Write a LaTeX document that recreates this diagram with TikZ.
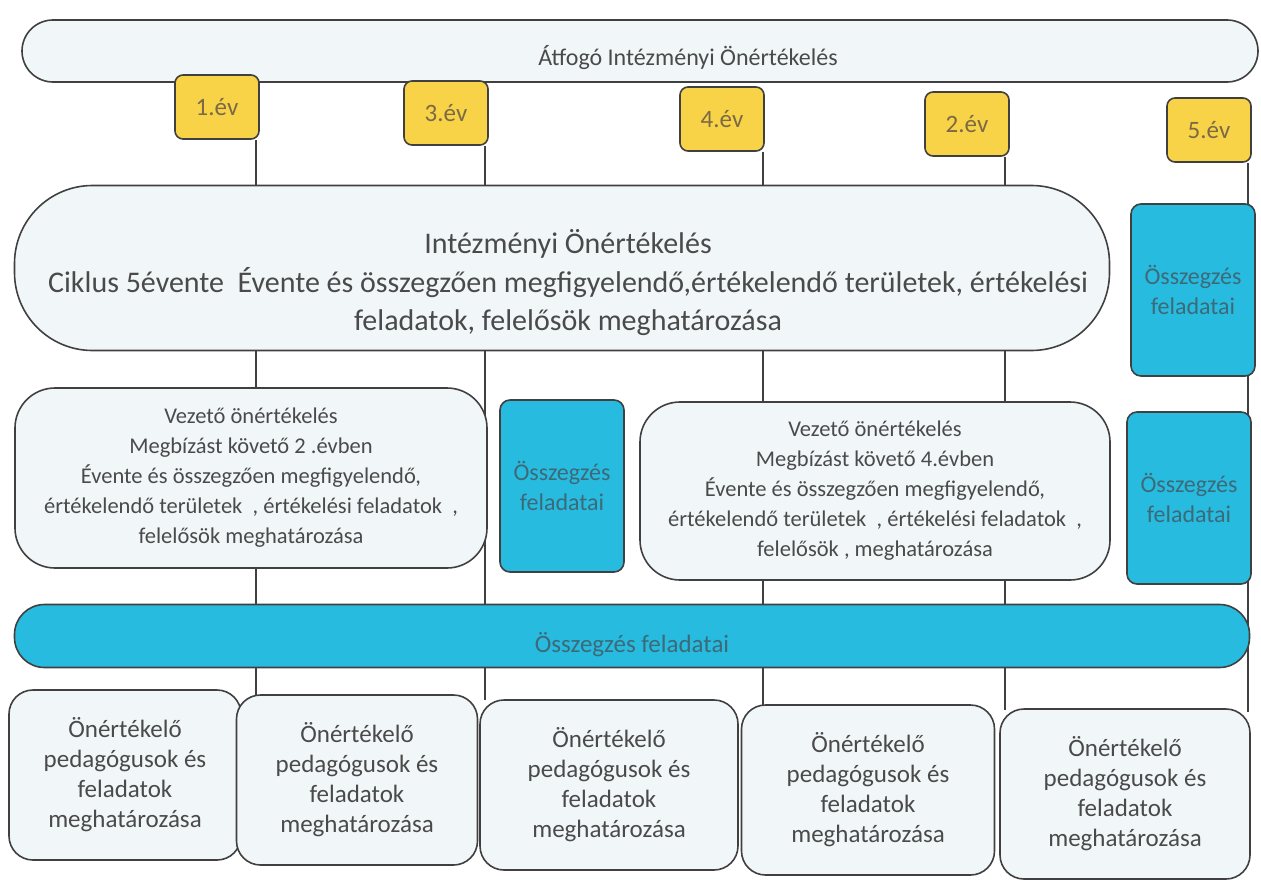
\documentclass[tikz,border=0pt]{standalone}
\usepackage{fontspec}
\setmainfont{Carlito}
\definecolor{linec}{HTML}{404040}
\definecolor{lightf}{HTML}{F1F7F9}
\definecolor{yel}{HTML}{F8D247}
\definecolor{teal1}{HTML}{27BBE0}
\definecolor{txt}{HTML}{4A4A4A}
\definecolor{ytxt}{HTML}{7A6A45}
\definecolor{ttxt}{HTML}{3D6A78}
\tikzset{
  bx/.style={draw=linec, line width=1.6pt, align=center, inner sep=0pt, text=txt},
  lightbox/.style={bx, fill=lightf},
  yr/.style={bx, fill=yel, rounded corners=8pt, minimum width=84pt, minimum height=64pt, text=ytxt, font=\fontsize{25}{28}\selectfont},
  tl/.style={bx, fill=teal1, rounded corners=10pt, minimum width=124pt, minimum height=172pt, text=ttxt, font=\fontsize{24}{30}\selectfont},
  vez/.style={lightbox, rounded corners=40pt, font=\fontsize{22.5}{30}\selectfont},
  bot/.style={lightbox, rounded corners=24pt, minimum height=170pt, font=\fontsize{25}{30}\selectfont},
  conn/.style={draw=linec, line width=1.6pt},
}
\begin{document}
\begin{tikzpicture}[x=1pt,y=-1pt]
\useasboundingbox (0,0) rectangle (1261,883);
% top bar
\node[lightbox, rounded corners=31pt, minimum width=1236pt, minimum height=62pt] (top) at (640,51) {};
\node[font=\fontsize{24}{30}\selectfont, text=txt] (toptxt) at (688,58) {Átfogó Intézményi Önértékelés};
% year boxes
\node[yr] (y1) at (217,107) {1.év};
\node[yr] (y3) at (446,113) {3.év};
\node[yr] (y4) at (722,119) {4.év};
\node[yr] (y2) at (967,124) {2.év};
\node[yr] (y5) at (1209,130) {5.év};
% line ends
\coordinate (e1) at (256,695);
\coordinate (e3) at (485,700);
\coordinate (e4) at (763,705);
\coordinate (e2) at (1005,710);
\coordinate (e5) at (1248,712);
\draw[conn] (y1.south -| e1) -- (e1);
\draw[conn] (y3.south -| e3) -- (e3);
\draw[conn] (y4.south -| e4) -- (e4);
\draw[conn] (y2.south -| e2) -- (e2);
\draw[conn] (y5.south -| e5) -- (e5);
% big pill
\node[lightbox, rounded corners=78pt, minimum width=1095pt, minimum height=165pt] (inst) at (562,268) {};
\node[align=center, text=txt, font=\fontsize{30}{38.5}\selectfont] (insttxt) at (568,283)
 {Intézményi Önértékelés\\
  Ciklus 5évente\ \ Évente és összegzően megfigyelendő,értékelendő területek, értékelési\\
  feladatok, felelősök meghatározása};
\node[tl] (t1) at (1193,290) {Összegzés\\feladatai};
% leader rows
\node[vez, minimum width=472pt, minimum height=180pt] (v1) at (251,478)
 {Vezető önértékelés\\
  Megbízást követő 2 .évben\\
  Évente és összegzően megfigyelendő,\\
  értékelendő területek\ \ , értékelési feladatok\ \ ,\\
  felelősök meghatározása};
\node[tl] (t2) at (562,486) {Összegzés\\feladatai};
\node[vez, minimum width=470pt, minimum height=178pt] (v2) at (875,491)
 {Vezető önértékelés\\
  Megbízást követő 4.évben\\
  Évente és összegzően megfigyelendő,\\
  értékelendő területek\ \ , értékelési feladatok\ \ ,\\
  felelősök , meghatározása};
\node[tl] (t3) at (1189,498) {Összegzés\\feladatai};
% wide bar
\node[bx, fill=teal1, rounded corners=30pt, minimum width=1235pt, minimum height=63pt] (wide) at (632,636) {};
\node[font=\fontsize{25}{28}\selectfont, text=ttxt] (widetxt) at (632,645) {Összegzés feladatai};
% bottom boxes
\node[bot, minimum width=232pt] (b1) at (125,775) {Önértékelő\\pedagógusok és\\feladatok\\meghatározása};
\node[bot, minimum width=241pt] (b2) at (357,780) {Önértékelő\\pedagógusok és\\feladatok\\meghatározása};
\node[bot, minimum width=258pt] (b3) at (609,785) {Önértékelő\\pedagógusok és\\feladatok\\meghatározása};
\node[bot, minimum width=253pt] (b4) at (868,790) {Önértékelő\\pedagógusok és\\feladatok\\meghatározása};
\node[bot, minimum width=250pt] (b5) at (1125,794) {Önértékelő\\pedagógusok és\\feladatok\\meghatározása};
\end{tikzpicture}
\end{document}
